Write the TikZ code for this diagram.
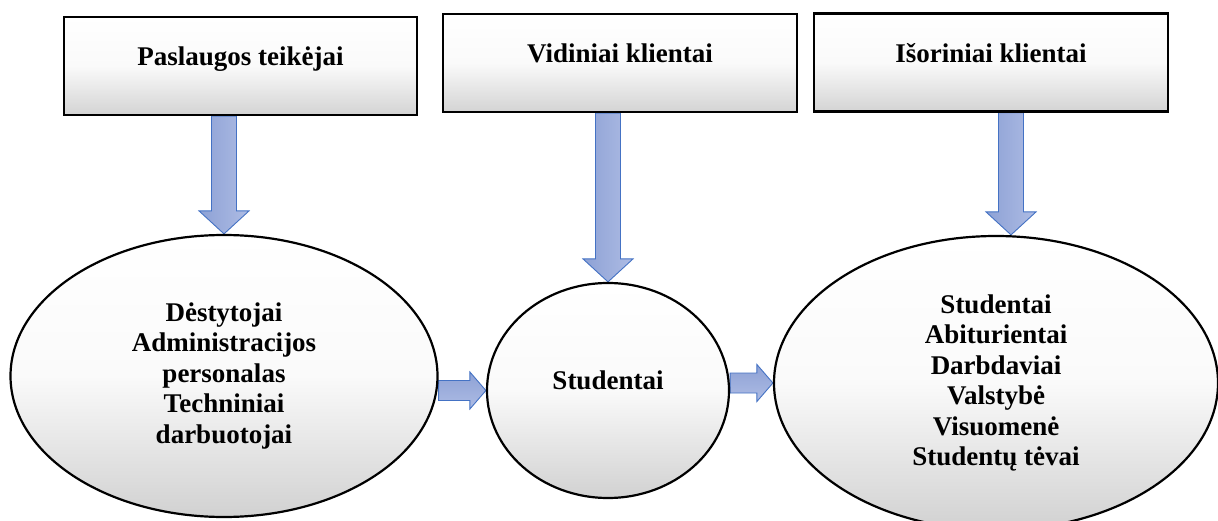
\documentclass[tikz,border=0pt]{standalone}
\usepackage{fontspec}
\setmainfont{Liberation Serif}
\usepackage{xcolor}
\usetikzlibrary{positioning,shapes.geometric,calc,backgrounds}

\definecolor{arrowdark}{RGB}{141,161,213}
\definecolor{arrowlight}{RGB}{174,188,228}
\definecolor{arrowline}{RGB}{68,114,196}

% block arrow pointing down, from a box to an ellipse
\newcommand{\downarrowblock}[2]{%
  \path[flowarrow, left color=arrowdark, right color=arrowlight] let \p1=(#1), \p2=(#2) in
    (\x2-12.5pt,\y1) -- (\x2+12.5pt,\y1) -- (\x2+12.5pt,\y2+23pt) -- (\x2+25pt,\y2+23pt)
    -- (\x2,\y2) -- (\x2-25pt,\y2+23pt) -- (\x2-12.5pt,\y2+23pt) -- cycle;}

% block arrow pointing right, between two ellipses
\newcommand{\rightarrowblock}[2]{%
  \path[flowarrow, top color=arrowdark, bottom color=arrowlight] let \p1=(#1), \p2=(#2) in
    (\x1,\y2+10pt) -- (\x2-16pt,\y2+10pt) -- (\x2-16pt,\y2+18.5pt) -- (\x2,\y2)
    -- (\x2-16pt,\y2-18.5pt) -- (\x2-16pt,\y2-10pt) -- (\x1,\y2-10pt) -- cycle;}

\begin{document}
\begin{tikzpicture}[x=1pt, y=-1pt, line join=miter,
    groupbox/.style={draw=black, line width=2.6pt, rectangle, inner sep=0pt,
      minimum width=#1, minimum height=98pt,
      top color=white, bottom color=black!17, middle color=black!2,
      font=\bfseries\fontsize{27}{30.5}\selectfont, text height=18pt, text depth=18pt},
    clientell/.style={draw=black, line width=2.2pt, ellipse, inner sep=0pt,
      top color=white, bottom color=black!18, middle color=black!2,
      font=\bfseries\fontsize{27}{30.5}\selectfont, align=center},
    flowarrow/.style={draw=arrowline, line width=0.9pt}]

        \useasboundingbox (0,0) rectangle (1218,521);

        % Define boxes on top
        \node[groupbox=353pt] (teik) at (240.5,66) {Paslaugos teikėjai};
        \node[groupbox=354pt] (vid) at (620,63) {Vidiniai klientai};
        \node[groupbox=354pt] (isor) at (991,62.5) {Išoriniai klientai};

        % Define ellipses
        \node[clientell, minimum width=427pt, minimum height=282pt] (dest) at (224,376)
            {Dėstytojai\\Administracijos\\personalas\\Techniniai\\darbuotojai};
        \node[clientell, minimum width=242pt, minimum height=215pt, text height=18pt, text depth=20pt]
            (stud) at (608,390.5) {Studentai};
        \node[clientell, minimum width=444pt, minimum height=294pt] (ext) at (996,383)
            {Studentai\\Abiturientai\\Darbdaviai\\Valstybė\\Visuomenė\\Studentų tėvai};

        % Draw arrows behind the shapes
        \begin{scope}[on background layer]
            \downarrowblock{teik.south}{dest.north}
            \downarrowblock{vid.south}{stud.north}
            \downarrowblock{isor.south}{$(ext.north)+(15,0)$}
            \rightarrowblock{dest.east}{stud.west}
            \rightarrowblock{stud.east}{ext.west}
        \end{scope}
    \end{tikzpicture}
\end{document}
